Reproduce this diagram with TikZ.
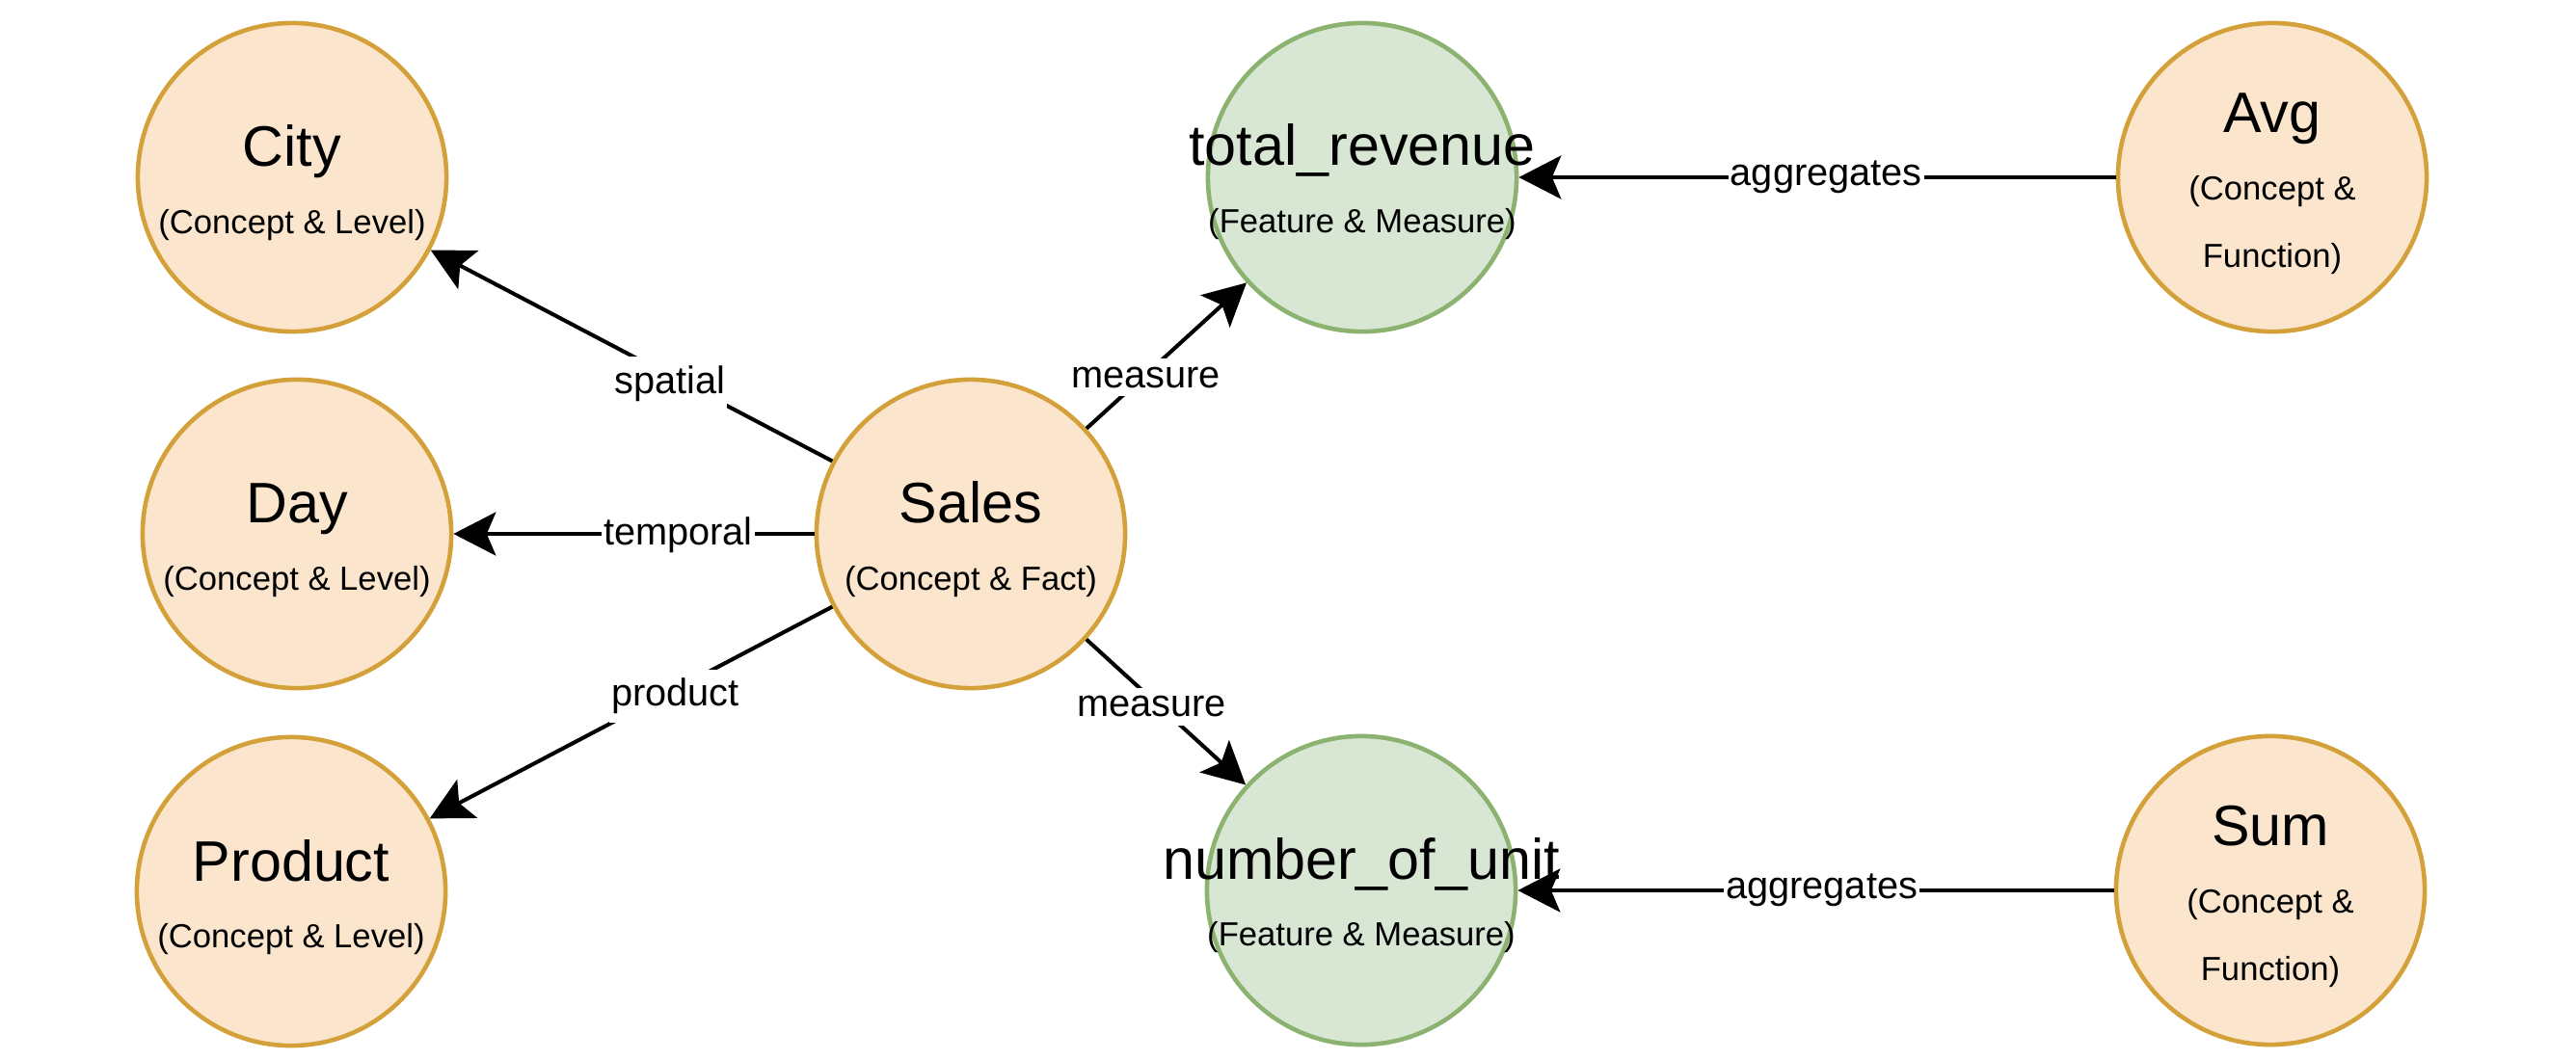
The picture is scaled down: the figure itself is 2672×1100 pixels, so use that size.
\documentclass[tikz,border=0pt]{standalone}
\usepackage{fontspec}
\setmainfont{Liberation Sans}
\usetikzlibrary{arrows.meta}
\definecolor{ofill}{HTML}{FBE6CD}
\definecolor{ostroke}{HTML}{D4A03A}
\definecolor{gfill}{HTML}{D7E7D4}
\definecolor{gstroke}{HTML}{8BB26E}
\tikzset{
  ocirc/.style={circle, minimum size=3.2cm, inner sep=0pt, fill=ofill, draw=ostroke, line width=1.3pt},
  gcirc/.style={circle, minimum size=3.2cm, inner sep=0pt, fill=gfill, draw=gstroke, line width=1.3pt},
  ttl/.style={anchor=base, inner sep=0pt, font=\fontsize{16.85}{20}\selectfont},
  sub/.style={anchor=base, inner sep=0pt, font=\fontsize{9.85}{12}\selectfont},
  lab/.style={fill=white, inner xsep=0.6pt, inner ysep=2.5pt, font=\fontsize{11.3}{13}\selectfont},
  edge/.style={line width=1.15pt, -{Stealth[length=12.5pt, width=12.8pt, inset=2.7pt]}}
}
\begin{document}
\begin{tikzpicture}[x=0.01cm, y=-0.01cm]
\useasboundingbox (0,0) rectangle (2672,1100);
\fill[white] (0,0) rectangle (2672,1100);

% circles
\node[ocirc] (city) at (303,184) {};
\node[ocirc] (day) at (308,554) {};
\node[ocirc] (product) at (302,925) {};
\node[ocirc] (sales) at (1007,554) {};
\node[gcirc] (rev) at (1413,184) {};
\node[gcirc] (units) at (1412,924) {};
\node[ocirc] (avg) at (2357,184) {};
\node[ocirc] (sum) at (2355,924) {};

% edges
\draw[edge] (sales) -- node[lab, pos=0.405, yshift=-0.08cm] {spatial} (city);
\draw[edge] (sales) -- node[lab, pos=0.377, yshift=-0.01cm] {temporal} (day);
\draw[edge] (sales) -- node[lab, pos=0.39, yshift=-0.07cm] {product} (product);
\draw[edge] (sales) -- node[lab, pos=0.37, yshift=-0.03cm] {measure} (rev);
\draw[edge] (sales) -- node[lab, pos=0.41, yshift=-0.08cm] {measure} (units);
\draw[edge] (avg) -- node[lab, pos=0.485] {aggregates} (rev);
\draw[edge] (sum) -- node[lab, pos=0.49] {aggregates} (units);

% texts
\node[ttl] (cityT) at ([yshift=0.11cm]city.center) {City};
\node[sub] (cityS) at ([yshift=-0.58cm]city.center) {(Concept \& Level)};
\node[ttl] (dayT) at ([yshift=0.11cm]day.center) {Day};
\node[sub] (dayS) at ([yshift=-0.58cm]day.center) {(Concept \& Level)};
\node[ttl] (productT) at ([yshift=0.11cm]product.center) {Product};
\node[sub] (productS) at ([yshift=-0.58cm]product.center) {(Concept \& Level)};
\node[ttl] (salesT) at ([yshift=0.11cm]sales.center) {Sales};
\node[sub] (salesS) at ([yshift=-0.58cm]sales.center) {(Concept \& Fact)};
\node[ttl] (revT) at ([yshift=0.12cm]rev.center) {total\_revenue};
\node[sub] (revS) at ([yshift=-0.57cm]rev.center) {(Feature \& Measure)};
\node[ttl] (unitsT) at ([yshift=0.12cm]units.center) {number\_of\_unit};
\node[sub] (unitsS) at ([yshift=-0.57cm]units.center) {(Feature \& Measure)};
\node[ttl] (avgT) at ([yshift=0.46cm]avg.center) {Avg};
\node[sub] (avgS1) at ([yshift=-0.23cm]avg.center) {(Concept \&};
\node[sub] (avgS2) at ([yshift=-0.93cm]avg.center) {Function)};
\node[ttl] (sumT) at ([yshift=0.46cm]sum.center) {Sum};
\node[sub] (sumS1) at ([yshift=-0.23cm]sum.center) {(Concept \&};
\node[sub] (sumS2) at ([yshift=-0.93cm]sum.center) {Function)};
\end{tikzpicture}
\end{document}
